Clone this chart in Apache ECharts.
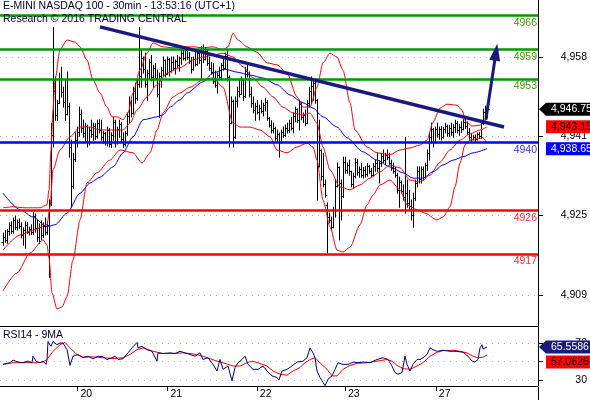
<!DOCTYPE html>
<html>
<head>
<meta charset="utf-8">
<script src="https://cdn.jsdelivr.net/npm/echarts@6/dist/echarts.min.js"></script>
<style>
  html, body { margin: 0; padding: 0; background: #fff; }
  #chart { width: 590px; height: 400px; }
</style>
</head>
<body>
<div id="chart"></div>
<script>
// 30-min bars, one row per bar: [open, high, low, close]
const bars = [
  [4919.5,4921.3,4918.8,4920.5],[4920.5,4921.8,4919.4,4919.8],[4919.8,4922.0,4919.2,4921.7],[4921.7,4923.4,4920.9,4922.9],
  [4922.9,4923.6,4921.2,4921.8],[4921.8,4924.4,4921.3,4923.9],[4923.9,4924.8,4922.0,4922.6],[4922.6,4924.0,4921.9,4923.6],
  [4923.6,4924.2,4922.2,4922.8],[4922.8,4923.4,4920.3,4920.9],[4920.9,4922.4,4918.8,4921.9],[4921.9,4923.6,4918.2,4922.9],
  [4922.9,4923.5,4921.2,4921.6],[4921.6,4922.5,4920.9,4922.1],[4922.1,4923.0,4921.0,4921.5],[4921.5,4925.6,4921.0,4924.8],
  [4924.8,4925.2,4921.5,4922.3],[4922.3,4924.0,4919.6,4920.4],[4920.4,4923.2,4919.2,4922.6],[4922.6,4923.8,4920.0,4921.0],
  [4921.0,4923.4,4920.4,4922.8],[4922.8,4924.4,4920.9,4921.6],[4921.6,4923.6,4921.0,4923.0],[4923.0,4928.1,4912.2,4927.5],
  [4927.5,4943.9,4927.0,4941.4],[4941.4,4963.6,4939.0,4950.5],[4950.5,4953.4,4944.5,4945.5],[4945.5,4948.6,4944.5,4948.0],
  [4948.0,4954.2,4948.0,4953.0],[4953.0,4955.4,4949.3,4950.3],[4950.3,4951.3,4947.2,4948.2],[4948.2,4952.8,4944.5,4945.8],
  [4945.8,4954.4,4945.6,4947.5],[4947.5,4948.0,4936.9,4939.0],[4939.0,4940.4,4926.6,4931.0],[4931.0,4937.7,4930.5,4936.5],
  [4936.5,4941.9,4936.0,4940.5],[4940.5,4943.1,4939.0,4942.0],[4942.0,4947.2,4941.2,4945.8],[4945.8,4946.6,4942.0,4943.0],
  [4943.0,4944.5,4941.0,4941.8],[4941.8,4943.9,4940.0,4943.3],[4943.3,4943.5,4939.0,4940.0],[4940.0,4943.0,4939.4,4942.5],
  [4942.5,4944.5,4941.0,4941.6],[4941.6,4943.9,4940.4,4943.4],[4943.4,4943.8,4940.6,4941.2],[4941.2,4944.5,4940.8,4944.0],
  [4944.0,4944.6,4941.9,4942.4],[4942.4,4944.5,4940.4,4941.0],[4941.0,4942.2,4939.8,4941.8],[4941.8,4942.0,4939.4,4940.0],
  [4940.0,4943.1,4939.2,4942.5],[4942.5,4942.8,4939.0,4939.6],[4939.6,4941.9,4938.9,4941.5],[4941.5,4945.1,4940.4,4944.2],
  [4944.2,4944.5,4939.0,4940.0],[4940.0,4943.1,4939.6,4942.6],[4942.6,4944.5,4941.0,4943.8],[4943.8,4944.0,4940.0,4940.6],
  [4940.6,4941.9,4938.9,4939.6],[4939.6,4942.2,4939.2,4941.8],[4941.8,4946.0,4941.4,4945.4],[4945.4,4949.3,4944.0,4948.0],
  [4948.0,4948.6,4945.2,4946.0],[4946.0,4951.3,4945.8,4950.6],[4950.6,4952.1,4948.0,4949.0],[4949.0,4952.8,4948.6,4952.0],
  [4952.0,4963.6,4951.3,4953.5],[4953.5,4958.9,4951.3,4957.2],[4957.2,4957.5,4954.2,4955.0],[4955.0,4958.3,4951.3,4952.0],
  [4952.0,4954.8,4948.6,4954.2],[4954.2,4957.0,4953.0,4956.5],[4956.5,4957.8,4952.6,4953.4],[4953.4,4955.8,4951.3,4955.2],
  [4955.2,4956.2,4952.8,4953.2],[4953.2,4954.8,4949.3,4950.0],[4950.0,4954.2,4945.1,4953.6],[4953.6,4955.4,4951.3,4954.8],
  [4954.8,4957.5,4953.6,4956.8],[4956.8,4956.9,4953.4,4954.0],[4954.0,4957.5,4954.0,4957.0],[4957.0,4957.2,4953.6,4954.6],
  [4954.6,4957.5,4954.4,4956.4],[4956.4,4957.5,4954.8,4955.2],[4955.2,4956.9,4954.0,4956.6],[4956.6,4957.8,4955.4,4955.8],
  [4955.8,4957.5,4954.6,4957.2],[4957.2,4958.9,4956.0,4958.4],[4958.4,4958.9,4956.9,4957.2],[4957.2,4959.5,4956.8,4959.0],
  [4959.0,4959.5,4957.0,4957.6],[4957.6,4958.4,4956.2,4956.6],[4956.6,4957.4,4954.2,4955.0],[4955.0,4957.5,4954.8,4957.0],
  [4957.0,4958.6,4955.6,4956.0],[4956.0,4958.9,4955.8,4958.4],[4958.4,4959.0,4956.2,4956.8],[4956.8,4959.6,4952.8,4959.2],
  [4959.2,4960.0,4956.4,4957.0],[4957.0,4959.4,4956.9,4958.8],[4958.8,4959.0,4955.8,4956.2],[4956.2,4957.5,4954.8,4955.2],
  [4955.2,4956.4,4954.0,4954.4],[4954.4,4956.2,4952.1,4952.6],[4952.6,4954.6,4951.3,4951.8],[4951.8,4954.2,4950.1,4953.8],
  [4953.8,4955.4,4952.8,4953.4],[4953.4,4956.2,4953.0,4955.8],[4955.8,4957.5,4954.8,4955.2],[4955.2,4958.3,4955.0,4957.8],
  [4957.8,4958.9,4952.6,4953.4],[4953.4,4953.6,4939.0,4944.0],[4944.0,4949.3,4943.8,4948.4],[4948.4,4948.6,4939.0,4941.0],
  [4941.0,4949.3,4940.8,4948.5],[4948.5,4951.3,4947.2,4950.6],[4950.6,4952.8,4949.3,4950.0],[4950.0,4953.4,4950.0,4952.8],
  [4952.8,4952.9,4948.6,4949.4],[4949.4,4955.4,4949.2,4954.6],[4954.6,4956.2,4953.4,4954.0],[4954.0,4954.4,4949.3,4950.0],
  [4950.0,4951.3,4947.2,4948.0],[4948.0,4949.3,4946.0,4946.6],[4946.6,4948.0,4944.5,4947.4],[4947.4,4948.6,4945.8,4946.2],
  [4946.2,4947.6,4944.6,4947.0],[4947.0,4948.6,4946.0,4946.4],[4946.4,4948.0,4945.4,4947.6],[4947.6,4949.0,4946.4,4948.3],
  [4948.3,4948.6,4944.5,4945.0],[4945.0,4945.1,4943.1,4943.6],[4943.6,4944.4,4941.9,4942.4],[4942.4,4943.9,4941.9,4943.0],
  [4943.0,4943.1,4940.4,4940.8],[4940.8,4942.5,4940.2,4941.6],[4941.6,4941.9,4936.9,4940.0],[4940.0,4942.5,4939.8,4942.0],
  [4942.0,4943.1,4941.0,4941.4],[4941.4,4943.5,4941.2,4943.0],[4943.0,4943.9,4941.9,4942.4],[4942.4,4944.5,4942.0,4944.0],
  [4944.0,4945.1,4942.5,4943.0],[4943.0,4946.0,4941.9,4945.4],[4945.4,4947.2,4944.2,4946.8],[4946.8,4946.8,4944.0,4944.6],
  [4944.6,4948.6,4942.5,4947.8],[4947.8,4948.2,4944.6,4945.2],[4945.2,4946.0,4944.0,4945.6],[4945.6,4946.6,4943.4,4944.0],
  [4944.0,4948.6,4943.8,4948.0],[4948.0,4951.3,4947.2,4950.6],[4950.6,4953.4,4948.0,4951.6],[4951.6,4952.8,4948.6,4952.2],
  [4952.2,4952.8,4948.0,4948.6],[4948.6,4948.8,4928.1,4935.0],[4935.0,4944.5,4934.9,4938.4],[4938.4,4938.4,4932.2,4933.0],
  [4933.0,4937.7,4930.8,4931.4],[4931.4,4932.2,4928.7,4929.2],[4927.0,4927.5,4917.2,4924.6],[4924.6,4925.4,4923.4,4924.0],
  [4924.0,4924.6,4921.9,4922.6],[4922.6,4926.6,4922.4,4926.0],[4926.0,4932.2,4924.6,4931.0],[4931.0,4935.7,4930.8,4934.8],
  [4934.8,4934.9,4919.9,4931.6],[4931.6,4932.2,4924.0,4929.0],[4929.0,4936.9,4928.6,4936.0],[4936.0,4936.9,4933.6,4934.2],
  [4934.2,4935.7,4933.6,4935.2],[4935.2,4936.3,4933.2,4934.0],[4934.0,4934.0,4930.8,4931.4],[4931.4,4933.6,4930.6,4933.0],
  [4933.0,4936.6,4932.6,4936.0],[4936.0,4936.4,4933.2,4933.8],[4933.8,4934.9,4932.8,4934.4],[4934.4,4935.6,4932.8,4933.2],
  [4933.2,4934.8,4932.6,4934.2],[4934.2,4935.0,4932.8,4933.4],[4933.4,4935.6,4933.0,4935.0],[4935.0,4935.2,4933.6,4934.0],
  [4934.0,4934.6,4932.8,4933.2],[4933.2,4935.6,4933.0,4935.0],[4935.0,4936.3,4934.0,4935.8],[4935.8,4937.7,4934.0,4934.6],
  [4934.6,4936.2,4931.6,4935.8],[4935.8,4937.7,4935.0,4937.2],[4937.2,4938.4,4935.8,4936.4],[4936.4,4937.7,4935.4,4937.4],
  [4937.4,4938.4,4936.4,4937.0],[4937.0,4937.7,4935.4,4935.8],[4935.8,4936.3,4934.2,4934.6],[4934.6,4935.7,4933.6,4934.0],
  [4934.0,4934.8,4932.8,4933.2],[4933.2,4933.6,4929.5,4930.2],[4930.2,4932.8,4926.6,4931.8],[4931.8,4932.0,4929.5,4930.0],
  [4930.0,4931.2,4928.1,4928.7],[4928.7,4941.0,4925.4,4929.5],[4929.5,4932.2,4926.6,4927.4],[4927.4,4930.1,4926.0,4926.8],
  [4926.8,4928.1,4924.0,4925.0],[4925.0,4929.5,4922.5,4928.6],[4928.6,4932.2,4928.0,4931.6],[4931.6,4934.9,4930.8,4934.0],
  [4934.0,4934.9,4931.6,4932.4],[4932.4,4934.9,4931.6,4934.4],[4934.4,4934.9,4932.2,4932.8],[4932.8,4935.7,4932.6,4935.2],
  [4935.2,4938.4,4934.2,4937.8],[4937.8,4941.9,4936.3,4941.0],[4941.0,4943.9,4939.8,4942.6],[4942.6,4942.8,4939.0,4940.0],
  [4940.0,4943.1,4939.8,4942.6],[4942.6,4943.9,4941.0,4941.6],[4941.6,4943.1,4940.6,4942.8],[4942.8,4943.2,4940.4,4941.0],
  [4941.0,4943.0,4940.8,4942.6],[4942.6,4943.9,4941.9,4943.4],[4943.4,4943.5,4941.2,4941.8],[4941.8,4943.4,4941.2,4943.0],
  [4943.0,4943.9,4941.4,4942.0],[4942.0,4943.6,4941.0,4943.2],[4943.2,4944.5,4942.0,4944.0],[4944.0,4944.2,4941.9,4942.5],
  [4942.5,4943.6,4941.4,4943.2],[4943.2,4944.2,4942.0,4942.6],[4942.6,4944.6,4942.5,4944.2],[4944.2,4944.9,4942.8,4943.4],
  [4943.4,4944.2,4941.6,4942.0],[4942.0,4942.8,4940.6,4941.0],[4941.0,4941.8,4940.0,4940.6],[4940.6,4941.4,4940.4,4941.0],
  [4941.0,4941.5,4940.2,4940.6],[4940.6,4941.9,4940.4,4941.6],[4941.6,4942.0,4940.8,4941.2],[4941.2,4944.5,4940.8,4944.0],
  [4944.0,4946.8,4943.6,4946.2],[4946.2,4947.4,4944.6,4945.2],[4945.2,4948.0,4945.0,4946.75]
];

// indicator lines as [bar index, value]
const bbUpper = [
  [0,4926.5],[5,4926.7],[11,4926.5],[18.5,4926.5],[22,4927.1],[23,4930.2],[24,4938.4],[25,4946.6],[26,4952.8],
  [28.5,4959.0],[32,4961.0],[36,4960.6],[38.5,4959.6],[42,4956.9],[45,4952.8],[48.5,4950.1],[52,4947.2],[54.5,4945.2],
  [57,4945.2],[60,4944.6],[62.5,4946.0],[65,4950.1],[68.5,4954.8],[72,4958.3],[75,4960.4],[80,4959.6],[85,4959.4],
  [90,4959.6],[95,4959.6],[100,4959.4],[105,4959.6],[110,4959.0],[112.5,4959.6],[115,4962.4],[117.5,4961.0],[122,4959.6],
  [127,4958.5],[132,4956.3],[137,4955.9],[142,4954.2],[147,4949.3],[150,4947.2],[153.5,4947.2],[157,4951.3],[160,4956.3],
  [163.5,4958.3],[167,4957.5],[170,4954.8],[173.5,4948.1],[176,4942.5],[182,4939.0],[187,4937.8],[193.5,4937.4],
  [198.5,4938.4],[203.5,4938.8],[208.5,4939.4],[212,4940.4],[215,4944.1],[218.5,4947.0],[222,4947.8],[227,4947.6],
  [229.5,4946.6],[231.5,4944.1],[234.5,4943.3],[238.5,4943.5],[242,4945.0]
];
const bbMid = [
  [0,4917.8],[8.5,4920.9],[15,4921.9],[22,4923.0],[23.5,4926.7],[25,4934.3],[28.5,4938.4],[33.5,4941.1],[38.5,4943.1],
  [43.5,4943.1],[48.5,4942.5],[55,4942.5],[60,4942.5],[63.5,4943.9],[67,4946.6],[72,4949.3],[77,4951.8],[82,4954.2],
  [88.5,4955.3],[95,4956.9],[100,4957.5],[105,4957.9],[110,4958.3],[115,4957.5],[120,4955.5],[125,4953.2],[130,4951.3],
  [135,4949.3],[140,4947.2],[145,4946.0],[150,4945.6],[153.5,4946.0],[157,4943.9],[160,4939.0],[163.5,4934.3],
  [168.5,4930.8],[173.5,4930.2],[178.5,4931.2],[183.5,4932.6],[188.5,4933.9],[193.5,4935.3],[198.5,4934.7],
  [203.5,4932.2],[208.5,4931.8],[213.5,4933.2],[218.5,4935.9],[223.5,4938.4],[228.5,4940.4],[233.5,4941.7],
  [238.5,4942.5],[242,4943.15]
];
const bbLower = [
  [0,4909.4],[7,4913.1],[13.5,4917.2],[20,4919.9],[22,4918.9],[23,4916.2],[24.5,4909.0],[27,4905.7],[29.5,4906.1],
  [32,4908.2],[35,4915.8],[38.5,4924.0],[42,4931.6],[47,4933.7],[53.5,4936.3],[58.5,4938.4],[65,4937.8],[69.5,4935.7],
  [73.5,4937.8],[77,4942.5],[80,4946.0],[85,4949.3],[88.5,4950.1],[93.5,4951.3],[100,4952.8],[105,4953.2],[110,4951.3],
  [115,4943.9],[118.5,4943.1],[123.5,4943.1],[128.5,4942.5],[133.5,4941.1],[137,4938.4],[142,4937.8],[147,4939.0],
  [152,4939.8],[155,4939.0],[157,4936.3],[160,4928.1],[163.5,4922.6],[167,4917.8],[170,4917.4],[173.5,4918.4],
  [178.5,4923.0],[182,4927.1],[185,4929.1],[188.5,4931.2],[193.5,4932.2],[198.5,4930.2],[202,4927.1],[207,4926.1],
  [211,4925.4],[217,4924.0],[220,4924.6],[223.5,4926.7],[226,4930.8],[228.5,4935.7],[231,4939.4],[233.5,4940.4],
  [237,4940.7],[240,4940.9],[242,4939.8]
];
const maBlue = [
  [0,4929.5],[8.5,4926.1],[15,4924.6],[22,4922.6],[26,4923.0],[32,4925.4],[38.5,4929.5],[43.5,4931.6],[48.5,4932.8],
  [55,4934.9],[60,4937.8],[65,4941.1],[70,4944.6],[77,4945.2],[80,4945.6],[83.5,4947.2],[88.5,4948.7],[92,4950.1],
  [100,4952.4],[105,4954.2],[111,4955.0],[117,4954.4],[123.5,4953.8],[130,4953.2],[137,4951.8],[143.5,4949.7],
  [150,4948.1],[155,4947.0],[160,4945.2],[167,4943.1],[172,4940.9],[180,4938.0],[187,4936.3],[193.5,4934.9],
  [200,4933.7],[205,4932.6],[210,4932.6],[215,4933.9],[220,4935.3],[225,4936.3],[230,4937.0],[235,4937.8],[242,4938.65]
];
const rsi = [
  [0,46.8],[3.5,48.6],[5,51.4],[7.5,49.3],[10,48.6],[12.5,50.3],[14.5,48.6],[15,55.7],[16.5,50.3],[18.5,48.6],[20,50.3],
  [21.5,46.8],[22,52.1],[22.5,71.7],[24,66.4],[25,71.7],[27,68.2],[28.5,70.0],[30,70.0],[32,62.8],[33.5,45.7],[35,55.7],
  [37.5,57.5],[40,54.0],[42.5,55.7],[45,52.9],[47.5,55.7],[50,55.0],[52,52.1],[54.5,54.0],[56,55.7],[57.5,52.1],[60,52.9],
  [62.5,59.3],[64.5,64.7],[67,70.6],[67.5,64.7],[69.5,66.4],[72,62.8],[74.5,61.0],[77,50.3],[77.5,59.3],[80,58.6],
  [83.5,59.3],[86,58.6],[88.5,61.0],[91,59.3],[93.5,57.5],[96,55.7],[98.5,59.3],[100,52.1],[102.5,54.0],[105,46.8],
  [107,39.6],[108.5,52.1],[110,41.4],[112.5,45.0],[114.5,28.9],[116,43.3],[117.5,48.6],[119.5,52.1],[121,55.7],
  [122.5,46.8],[125,41.4],[127.5,41.4],[130,45.0],[132,39.6],[134.5,34.3],[137,32.6],[138,30.0],[139.5,39.6],[142,41.4],
  [144.5,45.0],[147,49.3],[150,50.3],[152,54.0],[153.5,64.7],[155,59.3],[156,54.0],[157,39.6],[158.5,32.6],[160,27.2],
  [161,23.6],[162.5,30.7],[164.5,34.3],[166,41.4],[167.5,48.6],[170,46.8],[172.5,46.8],[175,49.3],[177.5,48.6],
  [180,49.3],[183.5,48.6],[187,52.1],[190,54.0],[192.5,52.1],[194.5,45.0],[196,37.9],[197.5,36.1],[199.5,37.9],
  [201,55.7],[202,46.8],[203.5,39.6],[205,46.8],[207,52.1],[208.5,52.1],[210,54.0],[212,57.5],[213.5,64.7],[215,62.8],
  [217,61.0],[220,62.1],[223.5,61.0],[227,61.0],[230,59.9],[232.5,55.7],[234.5,50.3],[236,49.3],[237.5,52.1],
  [238.5,64.7],[239.5,68.2],[240,63.6],[242,65.5586]
];
const rsiMa = [
  [0,46.8],[5,48.6],[12,48.6],[17,48.6],[20,49.3],[22,52.1],[25,61.0],[28.5,68.2],[31,70.6],[33.5,64.7],[37,57.5],
  [40,54.6],[45,55.0],[50,54.0],[55,53.2],[60,54.0],[63.5,57.5],[67,62.8],[70,64.7],[75,61.0],[80,58.6],[85,58.6],
  [90,59.3],[95,58.2],[100,55.7],[103.5,52.9],[107,50.3],[110,48.6],[115,45.0],[118.5,45.0],[122,48.6],[124.5,50.3],
  [127.5,48.6],[132,45.0],[135,39.6],[138.5,36.1],[142,35.0],[145,39.6],[148.5,43.3],[150,46.8],[153.5,52.1],
  [156,54.0],[158.5,48.6],[162,41.4],[164.5,34.3],[167,34.3],[170,41.4],[173.5,45.7],[177,47.9],[182,48.6],[187,50.3],
  [192,52.1],[194.5,50.3],[197,45.7],[200,42.2],[203.5,41.4],[207,45.0],[210,48.6],[213.5,55.7],[217,59.9],[220,61.8],
  [225,62.1],[228.5,61.0],[232,59.3],[235,55.7],[237.5,54.0],[240,54.6],[242,57.0626]
];

const levels = [4966, 4959, 4953, 4940, 4926, 4917];
const trendLine = [[48.5, 4963.7], [250.5, 4943.1]];
const arrowPath = [[241.4, 4944.6], [246.5, 4958.5]];
const dayTicks = [37.2, 82.2, 126.9, 171, 216.4];
const dayLabels = ['20', '21', '22', '23', '27'];
const priceTicks = [4908.6, 4924.9, 4941.2, 4957.5];
const rsiTicks = [30, 50, 70];
const lastPrice = 4946.75, lastMid = 4943.15, lastMa = 4938.65;
const lastRsi = 65.5586, lastRsiMa = 57.0626;

// styles
const FONT = '"Liberation Sans", Arial, sans-serif';
const levelColors = ['#009900', '#009900', '#009900', '#0000ff', '#ff0000', '#ff0000'];
const levelTextColors = ['#3c9c00', '#3c9c00', '#3c9c00', '#3333ff', '#ff2a2a', '#ff2a2a'];
const NAVY = '#1a1a7e';
const dotted = { color: '#b8b8b8', type: [1, 5], width: 1 };
const black = { color: '#000', width: 1 };

const chart = echarts.init(document.getElementById('chart'));

function renderOhlc(params, api) {
  const i = api.value(0);
  const o = api.coord([i, api.value(1)]);
  const h = api.coord([i, api.value(2)]);
  const l = api.coord([i, api.value(3)]);
  const c = api.coord([i, api.value(4)]);
  const px = Math.round(o[0]) + 0.5;
  const st = { stroke: '#000', lineWidth: 1 };
  return {
    type: 'group',
    children: [
      { type: 'line', shape: { x1: px, y1: h[1] - 0.5, x2: px, y2: l[1] + 0.5 }, style: st },
      { type: 'line', shape: { x1: px - 2, y1: Math.round(o[1]) + 0.5, x2: px, y2: Math.round(o[1]) + 0.5 }, style: st },
      { type: 'line', shape: { x1: px, y1: Math.round(c[1]) + 0.5, x2: px + 2, y2: Math.round(c[1]) + 0.5 }, style: st }
    ]
  };
}

function bandLine(data, color, xi, yi) {
  return {
    type: 'line', data: data, xAxisIndex: xi, yAxisIndex: yi,
    showSymbol: false, symbol: 'none', smooth: 0.25, smoothMonotone: 'x',
    lineStyle: { color: color, width: 1 }, z: 4, silent: true
  };
}

const xBase = {
  type: 'value', min: -1.5, max: 267.5,
  axisLine: { show: true, onZero: false, lineStyle: black },
  splitLine: { show: false }
};

chart.setOption({
  animation: false,
  backgroundColor: '#fff',
  textStyle: { fontFamily: FONT },
  title: [
    {
      text: 'E-MINI NASDAQ 100 - 30min - 13:53:16 (UTC+1)\nResearch © 2016 TRADING CENTRAL',
      left: 3, top: 0, padding: 0,
      textStyle: { fontSize: 10.5, fontWeight: 'normal', color: '#000033', lineHeight: 13, fontFamily: FONT }
    },
    {
      text: 'RSI14 - 9MA', left: 3, top: 329, padding: 0,
      textStyle: { fontSize: 10.5, fontWeight: 'normal', color: '#000033', lineHeight: 13, fontFamily: FONT }
    }
  ],
  grid: [
    { left: 0, right: 52, top: 0, height: 326 },
    { left: 0, right: 52, top: 326, height: 61 }
  ],
  xAxis: [
    Object.assign({ gridIndex: 0, axisTick: { show: false }, axisLabel: { show: false } }, xBase),
    Object.assign({
      gridIndex: 1,
      axisTick: { show: true, length: 5, customValues: dayTicks, lineStyle: black },
      axisLabel: {
        customValues: dayTicks, formatter: v => dayLabels[dayTicks.indexOf(v)],
        align: 'left', margin: 3, padding: [0, 0, 0, 3], color: '#000', fontSize: 10.5, fontFamily: FONT
      }
    }, xBase)
  ],
  yAxis: [
    {
      gridIndex: 0, type: 'value', position: 'right', min: 4902.19, max: 4969.23,
      axisLine: { show: true, onZero: false, lineStyle: black },
      axisTick: { show: true, length: 5, customValues: priceTicks, lineStyle: black },
      axisLabel: {
        customValues: priceTicks, formatter: v => Math.round(v).toLocaleString('en-US'),
        align: 'right', margin: 49, color: '#000', fontSize: 10.5, fontFamily: FONT
      },
      splitLine: { show: true, lineStyle: dotted }
    },
    {
      gridIndex: 1, type: 'value', position: 'right', min: 23.3, max: 88.5,
      axisLine: { show: true, onZero: false, lineStyle: black },
      axisTick: { show: true, length: 5, customValues: rsiTicks, lineStyle: black },
      axisLabel: {
        customValues: rsiTicks, formatter: v => String(v),
        align: 'right', margin: 49, color: '#000', fontSize: 10.5, fontFamily: FONT
      },
      splitLine: { show: true, lineStyle: dotted }
    }
  ],
  series: [
    {
      type: 'custom', name: 'bars', xAxisIndex: 0, yAxisIndex: 0, z: 3, silent: true,
      renderItem: renderOhlc,
      data: bars.map((b, i) => [i, b[0], b[1], b[2], b[3]]),
      encode: { x: 0, y: [1, 2, 3, 4] },
      markLine: {
        silent: true, symbol: ['none', 'none'], z: 6,
        data: levels.map((v, k) => ({
          yAxis: v,
          lineStyle: { color: levelColors[k], width: 2.5, type: 'solid' },
          label: {
            show: true, position: 'insideEndBottom', distance: [1, 2],
            formatter: String(v), color: levelTextColors[k], fontSize: 10.5, fontFamily: FONT
          }
        }))
      }
    },
    bandLine(bbUpper, '#ff0000', 0, 0),
    bandLine(bbMid, '#ff0000', 0, 0),
    bandLine(bbLower, '#ff0000', 0, 0),
    bandLine(maBlue, '#0000ff', 0, 0),
    {
      type: 'line', name: 'trend', data: trendLine, xAxisIndex: 0, yAxisIndex: 0,
      showSymbol: false, symbol: 'none', z: 8, silent: true,
      lineStyle: { color: NAVY, width: 3.5 },
      markLine: {
        silent: true, z: 8, symbol: ['none', 'triangle'], symbolSize: [0, 16],
        lineStyle: { color: NAVY, width: 3, type: 'solid' },
        label: { show: false },
        data: [[{ coord: arrowPath[0] }, { coord: arrowPath[1], symbolSize: [11, 17] }]]
      }
    },
    Object.assign(bandLine(rsiMa, '#ff0000', 1, 1), { smooth: false }),
    Object.assign(bandLine(rsi, '#000080', 1, 1), { smooth: false })
  ]
});

// value tags on the right edge
function tag(y, text, fill, textColor, arrow) {
  const h = 13, x0 = 546;
  const body = arrow
    ? { type: 'polygon', shape: { points: [[539, y], [x0, y - h / 2], [590, y - h / 2], [590, y + h / 2], [x0, y + h / 2]] } }
    : { type: 'rect', shape: { x: x0, y: y - h / 2, width: 44, height: h } };
  body.style = { fill: fill };
  body.z = 100;
  return [body, {
    type: 'text', x: 551, y: y, z: 101,
    style: { text: text, fill: textColor, font: '10.5px ' + FONT, verticalAlign: 'middle', textVerticalAlign: 'middle' }
  }];
}
function stack(list) {
  list.sort((a, b) => a.y - b.y);
  for (let k = 1; k < list.length; k++) {
    if (list[k].y < list[k - 1].y + 15) list[k].y = list[k - 1].y + 15;
  }
  return list;
}
const fmtPrice = v => v.toLocaleString('en-US', { minimumFractionDigits: 2, maximumFractionDigits: 2 });
const priceTags = stack([
  { y: chart.convertToPixel({ yAxisIndex: 0 }, lastPrice), text: fmtPrice(lastPrice), fill: '#000', color: '#fff', arrow: true },
  { y: chart.convertToPixel({ yAxisIndex: 0 }, lastMid), text: fmtPrice(lastMid), fill: '#ff0000', color: '#000', arrow: false },
  { y: chart.convertToPixel({ yAxisIndex: 0 }, lastMa), text: fmtPrice(lastMa), fill: '#0000ff', color: '#fff', arrow: false }
]);
const rsiTags = stack([
  { y: chart.convertToPixel({ yAxisIndex: 1 }, lastRsi), text: lastRsi.toFixed(4), fill: NAVY, color: '#fff', arrow: true },
  { y: chart.convertToPixel({ yAxisIndex: 1 }, lastRsiMa), text: lastRsiMa.toFixed(4), fill: '#ff0000', color: '#000', arrow: false }
]);
let elements = [];
priceTags.concat(rsiTags).forEach(t => { elements = elements.concat(tag(t.y, t.text, t.fill, t.color, t.arrow)); });
elements.push({ type: 'line', z: 100, shape: { x1: 538.5, y1: 387, x2: 538.5, y2: 400 }, style: { stroke: '#000', lineWidth: 1 } });
chart.setOption({ graphic: elements });
</script>
</body>
</html>
